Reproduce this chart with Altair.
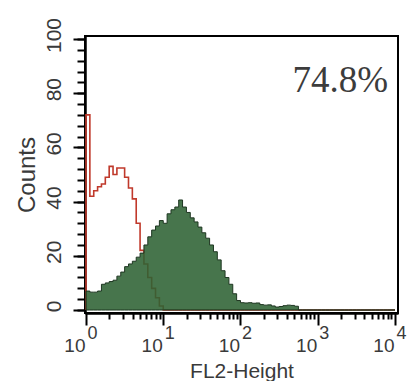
import altair as alt
import pandas as pd

# ---- data ----
BIN_DEC = 0.05  # width of one channel bin, in decades (log10 units)
n_bins = 80     # 4 decades

green_counts = [7, 6.6, 6.6, 7, 9.5, 10, 10.5, 11, 12.5, 14,
                16, 17, 18, 19.5, 21, 24, 27, 29.5, 31, 33,
                32, 35.5, 37, 38, 40.6, 38, 36, 34, 32.5, 30.6,
                28.5, 26.5, 24, 21.5, 18.5, 14.5, 12, 9.5, 6, 3.5,
                2.7, 2.6, 2.7, 2.5, 2.6, 2, 1.8, 1.9, 1.5, 1.1,
                1.3, 1.6, 1.8, 1.7, 1.4]
red_counts = [72, 42, 44, 45.5, 46.5, 49, 53, 50, 52.4, 52.4,
              49, 45, 41, 32, 22, 17, 12, 8, 4.5, 1.5]
green_counts = green_counts + [0] * (n_bins - len(green_counts))
red_counts = red_counts + [0] * (n_bins - len(red_counts))

percent_label = ["74.8%"]
x_major = [1, 10, 100, 1000, 10000]
x_minor = [m * d for d in [1, 10, 100, 1000] for m in range(2, 10)]
y_major = [0, 20, 40, 60, 80, 100]
y_minor = list(range(0, 101, 4))


def step_frame(counts, start_zero):
    rows = []
    if start_zero:
        rows.append({"x": 1.0, "y": 0.0})
    for i, c in enumerate(counts):
        rows.append({"x": 10 ** (BIN_DEC * i), "y": c})
    rows.append({"x": 10 ** (BIN_DEC * n_bins), "y": counts[-1]})
    return pd.DataFrame(rows)


red_df = step_frame(red_counts, True)
green_df = step_frame(green_counts, False)

FONT = "Liberation Sans"
TXT = "#3a3a3a"
xscale = alt.Scale(type="log", domain=[10 ** -0.013, 10 ** 4.039], nice=False)
yscale = alt.Scale(domain=[-1.1, 101.1], nice=False, zero=False)

common_axis = dict(grid=False, domainColor="black", domainWidth=2,
                   tickColor="black", tickWidth=2)

green = alt.Chart(green_df).mark_area(
    interpolate="step-after", color="#2e6233", fillOpacity=0.88,
    stroke="#1e3621", strokeWidth=1
).encode(
    x=alt.X("x:Q", scale=xscale,
            axis=alt.Axis(orient="bottom", values=x_minor, labels=False,
                          tickSize=6, title=None, **common_axis)),
    y=alt.Y("y:Q", scale=yscale,
            axis=alt.Axis(orient="left", values=y_minor, labels=False,
                          tickSize=8, title=None, **common_axis)),
)

red = alt.Chart(red_df).mark_line(
    interpolate="step-after", color="#c0392b", strokeWidth=1.6
).encode(
    x=alt.X("x:Q", scale=xscale,
            axis=alt.Axis(orient="bottom", values=x_major, tickSize=12,
                          labelExpr="'10'", labelAlign="right", labelOffset=-1,
                          labelPadding=11, labelFont=FONT, labelFontSize=19,
                          labelColor=TXT, title="FL2-Height", titleFont=FONT,
                          titleFontSize=21, titleFontWeight="normal",
                          titleColor=TXT, titlePadding=5, **common_axis)),
    y=alt.Y("y:Q", scale=yscale,
            axis=alt.Axis(orient="left", values=y_major, tickSize=12,
                          labelAngle=270, labelAlign="center",
                          labelBaseline="bottom", labelPadding=9,
                          labelOffset=-4,
                          labelFont=FONT, labelFontSize=21, labelColor=TXT,
                          title="Counts", titleFont=FONT, titleFontSize=24,
                          titleFontWeight="normal", titleColor=TXT,
                          titlePadding=4, **common_axis)),
)

expo = alt.Chart(red_df).mark_point(opacity=0).encode(
    x=alt.X("x:Q", scale=xscale,
            axis=alt.Axis(orient="bottom", values=x_major, ticks=False,
                          tickSize=0, domain=False, grid=False,
                          labelExpr="'' + round(log(datum.value) / LN10)",
                          labelAlign="left", labelOffset=1, labelPadding=11,
                          labelFont=FONT, labelFontSize=18, labelColor=TXT,
                          title=None)),
    y=alt.Y("y:Q", scale=yscale, axis=None),
)

pct = alt.Chart(pd.DataFrame({"t": percent_label})).mark_text(
    align="right", baseline="alphabetic", font="Liberation Serif",
    fontSize=37, color="#3c3c3c"
).encode(text="t:N", x=alt.value(303), y=alt.value(56))

chart = alt.layer(red, green, expo, pct).resolve_axis(
    x="independent", y="independent"
).properties(
    width=313, height=277,
    autosize=alt.AutoSizeParams(type="none"),
    padding={"left": 85, "top": 36, "right": 14, "bottom": 68},
    background="white",
).configure_view(stroke="black", strokeWidth=2)

chart.save("out.html", embed_options={"renderer": "svg", "actions": False})
